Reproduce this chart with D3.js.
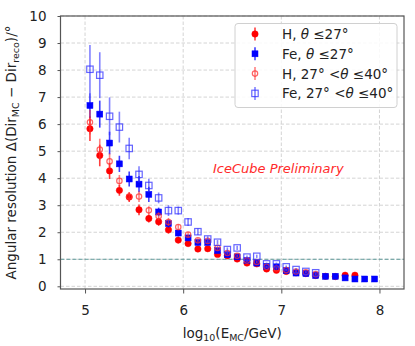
<!DOCTYPE html>
<html>
<head>
<meta charset="utf-8">
<script src="https://cdn.jsdelivr.net/npm/d3@7"></script>
<style>
  body { margin: 0; background: #fff; }
  text { font-family: "DejaVu Sans", sans-serif; fill: #222; }
</style>
</head>
<body>
<svg id="chart" width="415" height="346"></svg>
<script>
// bin centres in log10(E/GeV)
const logE = [5.05, 5.15, 5.25, 5.35, 5.45, 5.55, 5.65, 5.75, 5.85, 5.95,
              6.05, 6.15, 6.25, 6.35, 6.45, 6.55, 6.65, 6.75, 6.85, 6.95,
              7.05, 7.15, 7.25, 7.35, 7.45, 7.55, 7.65, 7.75, 7.85, 7.95];

const hVert = [5.83, 4.84, 4.27, 3.55, 3.30, 2.83, 2.51, 2.39, 2.09, 1.71,
               1.58, 1.38, 1.39, 1.18, 1.13, 1.01, 0.86, 0.83, 0.64, 0.59,
               0.55, 0.50, 0.47, 0.40, 0.37, 0.36, 0.41, 0.41, null, null];
const hVertErr = [0.45, 0.40, 0.30, 0.20, 0.18, 0.20, 0.15, 0.15, 0.14, 0.12,
                  0.10, 0.08, 0.08, 0.07, 0.06, 0.05, 0.05, 0.05, 0.04, 0.04,
                  0.04, 0.04, 0.04, 0.04, 0.04, 0.04, 0.04, 0.04, 0, 0];

const feVert = [6.69, 6.37, 5.30, 4.53, 3.97, 3.78, 3.40, 2.75, 2.32, 1.97,
                1.79, 1.62, 1.62, 1.32, 1.17, 1.09, 0.95, 0.86, 0.74, 0.72,
                0.58, 0.49, 0.47, 0.40, 0.37, 0.37, 0.31, 0.27, 0.27, 0.27];
const feVertErr = [0.45, 0.50, 0.42, 0.30, 0.28, 0.30, 0.28, 0.16, 0.15, 0.12,
                   0.10, 0.10, 0.08, 0.07, 0.06, 0.05, 0.05, 0.05, 0.04, 0.04,
                   0.04, 0.04, 0.04, 0.04, 0.04, 0.04, 0.04, 0.04, 0.04, 0.04];

const hIncl = [6.07, 5.06, 4.62, 3.90, 3.32, 3.32, 2.81, 2.59, 2.38, 2.19,
               1.91, 1.70, 1.68, 1.42, 1.23, 1.13, 0.95, 0.90, 0.72, 0.66,
               0.60, 0.55, 0.52, 0.45, null, null, null, null, null, null];
const hInclErr = [0.45, 0.40, 0.30, 0.22, 0.15, 0.20, 0.15, 0.15, 0.15, 0.10,
                  0.10, 0.08, 0.08, 0.07, 0.06, 0.05, 0.05, 0.05, 0.04, 0.04,
                  0.04, 0.04, 0.04, 0.04, 0, 0, 0, 0, 0, 0];

const feIncl = [8.03, 7.81, 6.29, 5.89, 5.10, 4.14, 3.73, 3.27, 2.80, 2.80,
                2.38, 2.02, 1.75, 1.63, 1.36, 1.42, 1.08, 1.11, 0.83, 0.83,
                0.72, 0.62, 0.55, 0.50, null, null, null, null, null, null];
const feInclErr = [0.90, 0.85, 0.70, 0.57, 0.40, 0.30, 0.25, 0.20, 0.20, 0.15,
                   0.15, 0.12, 0.10, 0.08, 0.08, 0.08, 0.06, 0.06, 0.05, 0.05,
                   0.05, 0.05, 0.05, 0.05, 0, 0, 0, 0, 0, 0];

const yTicks = [0, 1, 2, 3, 4, 5, 6, 7, 8, 9, 10];
const xTicks = [5, 6, 7, 8];

const series = [
  { label: "H, ", range: "le27", vals: hVert, errs: hVertErr, color: "#ff0000", shape: "circle", open: false },
  { label: "Fe, ", range: "le27", vals: feVert, errs: feVertErr, color: "#0000ff", shape: "square", open: false },
  { label: "H, ", range: "27to40", vals: hIncl, errs: hInclErr, color: "#ff3030", shape: "circle", open: true },
  { label: "Fe, ", range: "27to40", vals: feIncl, errs: feInclErr, color: "#3030ff", shape: "square", open: true }
];

const svg = d3.select("#chart");
const pLeft = 60.5, pRight = 404, pTop = 16, pBottom = 289;

const x = d3.scaleLinear().domain([4.75, 8.25]).range([pLeft, pRight]);
const y = d3.scaleLinear().domain([-0.1, 10]).range([pBottom, pTop]);

// grid
const grid = svg.append("g");
grid.selectAll(".gx").data(xTicks).join("line")
  .attr("x1", d => x(d)).attr("x2", d => x(d))
  .attr("y1", pTop).attr("y2", pBottom)
  .attr("stroke", "#d4d4d4").attr("stroke-dasharray", "3.5,2").attr("stroke-width", 1);
grid.selectAll(".gy").data(yTicks).join("line")
  .attr("x1", pLeft).attr("x2", pRight)
  .attr("y1", d => y(d)).attr("y2", d => y(d))
  .attr("stroke", "#d4d4d4").attr("stroke-dasharray", "3.5,2").attr("stroke-width", 1);

// reference line at 1 degree
svg.append("line")
  .attr("x1", pLeft).attr("x2", pRight)
  .attr("y1", y(1)).attr("y2", y(1))
  .attr("stroke", "#5f9a9a").attr("stroke-dasharray", "4,2").attr("stroke-width", 1);

// axes
const xAxis = svg.append("g")
  .attr("transform", `translate(0,${pBottom})`)
  .call(d3.axisBottom(x).tickValues(xTicks).tickFormat(d3.format("d")).tickSize(4.5).tickPadding(12));
const yAxis = svg.append("g")
  .attr("transform", `translate(${pLeft},0)`)
  .call(d3.axisLeft(y).tickValues(yTicks).tickFormat(d3.format("d")).tickSize(3).tickPadding(11));
[xAxis, yAxis].forEach(a => {
  a.select(".domain").remove();
  a.selectAll(".tick line").attr("stroke", "#555").attr("stroke-width", 1);
  a.selectAll(".tick text").attr("font-size", 13.5).style("fill", "#222")
    .attr("font-family", "DejaVu Sans, sans-serif");
});

// frame
svg.append("rect")
  .attr("x", pLeft).attr("y", pTop)
  .attr("width", pRight - pLeft).attr("height", pBottom - pTop)
  .attr("fill", "none").attr("stroke", "#555").attr("stroke-width", 1.2);

// data
function drawMarker(g, s, cx, cy) {
  const fill = s.open ? "none" : s.color;
  const op = s.open ? 0.75 : 1;
  if (s.shape === "circle") {
    g.append("circle").attr("cx", cx).attr("cy", cy)
      .attr("r", s.open ? 2.7 : 3.2)
      .attr("fill", fill).attr("stroke", s.color)
      .attr("stroke-width", s.open ? 1.2 : 0.5).attr("opacity", op);
  } else {
    const h = s.open ? 3.2 : 3;
    g.append("rect").attr("x", cx - h).attr("y", cy - h)
      .attr("width", 2 * h).attr("height", 2 * h)
      .attr("fill", fill).attr("stroke", s.color)
      .attr("stroke-width", s.open ? 1.2 : 0.5).attr("opacity", op);
  }
}

series.forEach(s => {
  const g = svg.append("g");
  const pts = logE.map((e, i) => ({ e, v: s.vals[i], err: s.errs[i] })).filter(p => p.v !== null);
  g.selectAll("line").data(pts).join("line")
    .attr("x1", p => x(p.e)).attr("x2", p => x(p.e))
    .attr("y1", p => y(p.v + p.err)).attr("y2", p => y(p.v - p.err))
    .attr("stroke", s.color).attr("stroke-width", 1.6)
    .attr("opacity", s.open ? 0.6 : 0.75);
  pts.forEach(p => drawMarker(g, s, x(p.e), y(p.v)));
});

// preliminary label
svg.append("text")
  .attr("x", 213).attr("y", 172.5)
  .attr("font-size", 13).attr("font-style", "italic")
  .style("fill", "#ff2a2a")
  .text("IceCube Preliminary");

// legend
const lg = svg.append("g");
lg.append("rect")
  .attr("x", 235).attr("y", 23.5).attr("width", 162).attr("height", 84).attr("rx", 3)
  .attr("fill", "#fff").attr("fill-opacity", 0.85)
  .attr("stroke", "#d0d0d0").attr("stroke-width", 1);
series.forEach((s, i) => {
  const cy = 34 + i * 19.8;
  lg.append("line").attr("x1", 255).attr("x2", 255).attr("y1", cy - 6.5).attr("y2", cy + 6.5)
    .attr("stroke", s.color).attr("stroke-width", 1.6).attr("opacity", s.open ? 0.6 : 0.75);
  drawMarker(lg, s, 255, cy);
  const t = lg.append("text").attr("x", 282).attr("y", cy + 5).attr("font-size", 13.5);
  t.append("tspan").text(s.label);
  if (s.range === "le27") {
    t.append("tspan").attr("font-style", "italic").text("θ");
    t.append("tspan").text(" ≤27°");
  } else {
    t.append("tspan").text("27° <");
    t.append("tspan").attr("font-style", "italic").text("θ");
    t.append("tspan").text(" ≤40°");
  }
});

// axis titles
const xl = svg.append("text").attr("x", (pLeft + pRight) / 2).attr("y", 338)
  .attr("text-anchor", "middle").attr("font-size", 13.5);
xl.append("tspan").text("log");
xl.append("tspan").attr("font-size", 9.5).attr("dy", 3).text("10");
xl.append("tspan").attr("dy", -3).text("(E");
xl.append("tspan").attr("font-size", 9.5).attr("dy", 3).text("MC");
xl.append("tspan").attr("dy", -3).text("/GeV)");

const yl = svg.append("text")
  .attr("transform", `translate(16,${(pTop + pBottom) / 2}) rotate(-90)`)
  .attr("text-anchor", "middle").attr("font-size", 13.5);
yl.append("tspan").text("Angular resolution Δ(Dir");
yl.append("tspan").attr("font-size", 9.5).attr("dy", 3).text("MC");
yl.append("tspan").attr("dy", -3).text(" − Dir");
yl.append("tspan").attr("font-size", 9.5).attr("dy", 3).text("reco");
yl.append("tspan").attr("dy", -3).text(")/°");
</script>
</body>
</html>
